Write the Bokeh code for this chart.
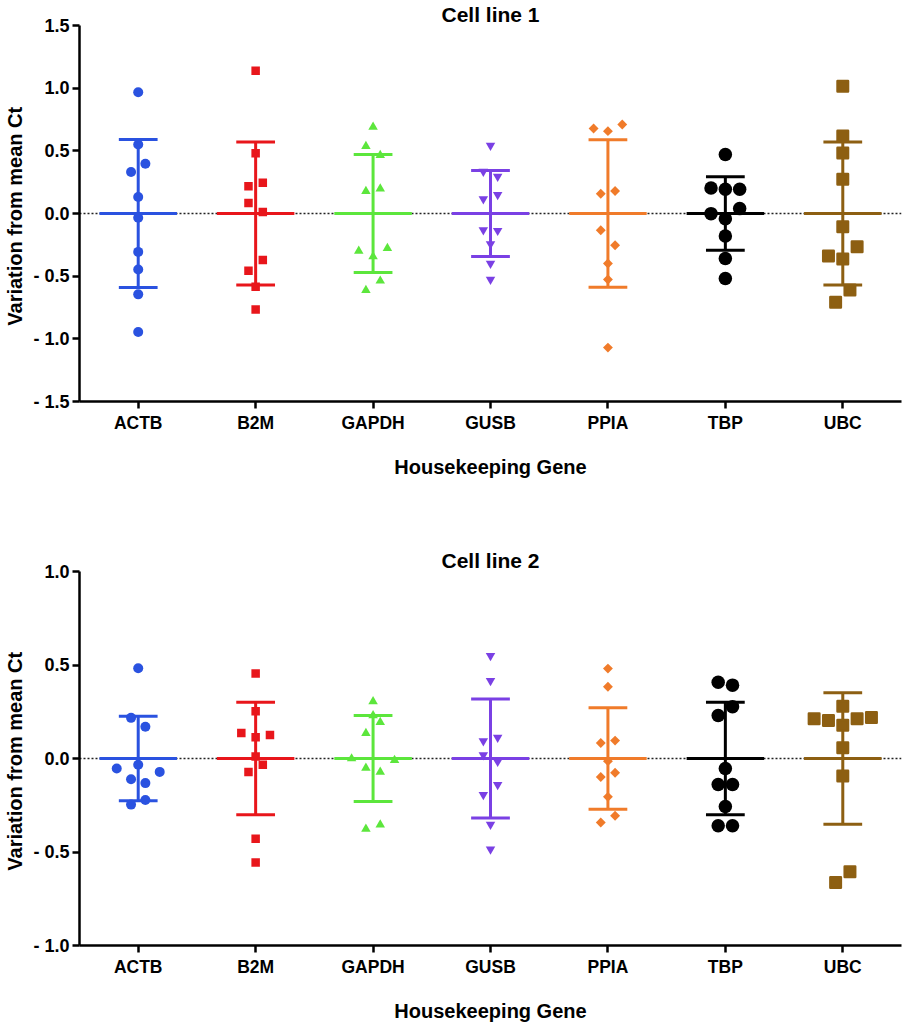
import numpy as np
from bokeh.plotting import figure
from bokeh.layouts import column
from bokeh.models import FixedTicker, Span
from bokeh.embed import file_html
from bokeh.resources import INLINE

genes = ["ACTB", "B2M", "GAPDH", "GUSB", "PPIA", "TBP", "UBC"]
gene_colors = ["#2a52e0", "#e8161b", "#5ce63c", "#7a40e4", "#f07b2a", "#000000", "#8d5f12"]

# Cell line 1: variation from mean Ct (values) and swarm side (steps) per point
cl1_ACTB = [0.96, 0.544, 0.39, 0.324, 0.125, -0.04, -0.313, -0.454, -0.652, -0.952]
cl1_ACTB_side = [0, 0, 1, -1, 0, 0, 0, 0, 0, 0]
cl1_B2M = [1.133, 0.475, 0.239, 0.21, 0.077, 0.005, -0.377, -0.464, -0.592, -0.772]
cl1_B2M_side = [0, 0, 1, -1, -1, 1, 1, -1, 0, 0]
cl1_GAPDH = [0.676, 0.523, 0.451, 0.183, 0.164, -0.292, -0.313, -0.358, -0.552, -0.626]
cl1_GAPDH_side = [0, -1, 1, 1, -1, 2, -2, 0, 1, -1]
cl1_GUSB = [0.544, 0.337, 0.297, 0.151, 0.117, -0.13, -0.135, -0.241, -0.398, -0.525]
cl1_GUSB_side = [0, -1, 1, 1, -1, -1, 1, 0, 0, 0]
cl1_PPIA = [0.703, 0.671, 0.65, 0.172, 0.151, -0.141, -0.26, -0.406, -0.533, -1.077]
cl1_PPIA_side = [2, -2, 0, 1, -1, -1, 1, 0, 0, 0]
cl1_TBP = [0.464, 0.196, 0.186, 0.186, 0.032, -0.008, -0.048, -0.186, -0.366, -0.525]
cl1_TBP_side = [0, -1, 0, 1, 1, -1, 0, 0, 0, 0]
cl1_UBC = [1.008, 0.61, 0.475, 0.265, -0.114, -0.273, -0.347, -0.371, -0.618, -0.716]
cl1_UBC_side = [0, 0, 0, 0, 0, 1, -1, 0, 0.5, -0.5]

# Cell line 2
cl2_ACTB = [0.481, 0.216, 0.168, -0.035, -0.055, -0.073, -0.112, -0.133, -0.223, -0.248]
cl2_ACTB_side = [0, -1, 1, 0, -3, 3, -1, 1, 1, -1]
cl2_B2M = [0.453, 0.251, 0.135, 0.124, 0.112, 0.009, -0.035, -0.073, -0.43, -0.558]
cl2_B2M_side = [0, 0, -2, 2, 0, 0, 1, -1, 0, 0]
cl2_GAPDH = [0.301, 0.225, 0.189, 0.131, -0.005, -0.014, -0.055, -0.076, -0.359, -0.381]
cl2_GAPDH_side = [0, 0, 1, -1, -3, 3, -1, 1, 1, -1]
cl2_GUSB = [0.552, 0.419, 0.115, 0.096, 0.021, -0.014, -0.138, -0.191, -0.35, -0.483]
cl2_GUSB_side = [0, 0, 1, -1, -1, 1, 1, -1, 0, 0]
cl2_PPIA = [0.481, 0.384, 0.096, 0.083, -0.014, -0.076, -0.099, -0.205, -0.306, -0.342]
cl2_PPIA_side = [0, 0, 1, -1, 0, 1, -1, 0, 1, -1]
cl2_TBP = [0.411, 0.396, 0.281, 0.234, -0.05, -0.135, -0.135, -0.253, -0.356, -0.356]
cl2_TBP_side = [-0.5, 0.5, 0.5, -0.5, 0, -0.5, 0.5, 0, -0.5, 0.5]
cl2_UBC = [0.278, 0.219, 0.212, 0.212, 0.202, 0.177, 0.057, -0.094, -0.607, -0.664]
cl2_UBC_side = [0, 2, -2, 1, -1, 0, 0, 0, 0.5, -0.5]

cl1_ticks = [-1.5, -1.0, -0.5, 0.0, 0.5, 1.0, 1.5]
cl1_tick_labels = ["- 1.5", "- 1.0", "- 0.5", "0.0", "0.5", "1.0", "1.5"]
cl2_ticks = [-1.0, -0.5, 0.0, 0.5, 1.0]
cl2_tick_labels = ["- 1.0", "- 0.5", "0.0", "0.5", "1.0"]

cl1 = [(cl1_ACTB, cl1_ACTB_side), (cl1_B2M, cl1_B2M_side), (cl1_GAPDH, cl1_GAPDH_side),
       (cl1_GUSB, cl1_GUSB_side), (cl1_PPIA, cl1_PPIA_side), (cl1_TBP, cl1_TBP_side),
       (cl1_UBC, cl1_UBC_side)]
cl2 = [(cl2_ACTB, cl2_ACTB_side), (cl2_B2M, cl2_B2M_side), (cl2_GAPDH, cl2_GAPDH_side),
       (cl2_GUSB, cl2_GUSB_side), (cl2_PPIA, cl2_PPIA_side), (cl2_TBP, cl2_TBP_side),
       (cl2_UBC, cl2_UBC_side)]

# marker styles per gene: (marker, size, angle, swarm step in category units, outline width)
styles = [
    ("circle", 10, 0.0, 0.061, 0),
    ("square", 8.5, 0.0, 0.061, 0),
    ("triangle", 9.5, 0.0, 0.061, 0),
    ("inverted_triangle", 9.5, 0.0, 0.061, 0),
    ("square", 7, np.pi / 4, 0.061, 0),
    ("circle", 13.5, 0.0, 0.122, 0),
    ("square", 10.5, 0.0, 0.122, 2.5),
]

FONT = "Liberation Sans"


def make_plot(title, data, ticks, tick_labels, height, border_left, border_right,
              border_top, border_bottom):
    lo, hi = ticks[0], ticks[-1]
    p = figure(width=907, height=height, x_range=(-0.5, 6.5), y_range=(lo, hi),
               output_backend="svg", toolbar_location=None, title=title,
               min_border_left=border_left, min_border_right=border_right,
               min_border_top=border_top, min_border_bottom=border_bottom)
    p.title.align = "center"
    p.title.text_font = FONT
    p.title.text_font_size = "21px"
    p.title.text_font_style = "bold"
    p.title.text_color = "#000000"
    p.title.standoff = 0
    p.outline_line_color = None
    p.grid.visible = False
    p.background_fill_color = "white"
    p.border_fill_color = "white"

    p.xaxis.ticker = FixedTicker(ticks=list(range(len(genes))))
    p.xaxis.major_label_overrides = {i: g for i, g in enumerate(genes)}
    p.yaxis.ticker = FixedTicker(ticks=ticks)
    p.yaxis.major_label_overrides = {t: l for t, l in zip(ticks, tick_labels)}
    for ax in (p.xaxis, p.yaxis):
        ax.axis_line_width = 2.5
        ax.axis_line_color = "black"
        ax.major_tick_line_width = 2.5
        ax.major_tick_line_color = "black"
        ax.major_tick_out = 7
        ax.major_tick_in = 0
        ax.minor_tick_line_color = None
        ax.major_label_text_font = FONT
        ax.major_label_text_font_style = "bold"
        ax.major_label_text_color = "black"
        ax.axis_label_text_font = FONT
        ax.axis_label_text_font_style = "bold"
        ax.axis_label_text_font_size = "20px"
        ax.axis_label_text_color = "black"
    p.xaxis.major_label_text_font_size = "17.5px"
    p.yaxis.major_label_text_font_size = "18px"
    p.xaxis.major_label_standoff = 4
    p.yaxis.major_label_standoff = 3
    p.xaxis.axis_label = "Housekeeping Gene"
    p.xaxis.axis_label_standoff = 20
    p.yaxis.axis_label = "Variation from mean  Ct"
    p.yaxis.axis_label_standoff = 4

    p.add_layout(Span(location=0, dimension="width", line_color="#222222",
                      line_width=1.3, line_dash="2 2", level="underlay"))

    for i, ((vals, side), col, st) in enumerate(zip(data, gene_colors, styles)):
        marker, size, angle, step, lw = st
        v = np.array(vals)
        v = v - v.mean()          # variation from the gene's mean
        sd = v.std(ddof=1)
        # mean line
        p.segment(x0=[i - 0.33], x1=[i + 0.33], y0=[0.0], y1=[0.0], line_color=col, line_width=3)
        # SD bar and caps
        p.segment(x0=[i], x1=[i], y0=[-sd], y1=[sd], line_color=col, line_width=3)
        p.segment(x0=[i - 0.165, i - 0.165], x1=[i + 0.165, i + 0.165],
                  y0=[-sd, sd], y1=[-sd, sd], line_color=col, line_width=3)
        xs = i + np.array(side) * step
        p.scatter(xs, v, marker=marker, size=size, angle=angle, fill_color=col,
                  line_color=col if lw else None, line_width=lw, line_join="round")
    return p


p1 = make_plot("Cell line 1", cl1, cl1_ticks, cl1_tick_labels, 545, 73, 6, 24, 144)
p2 = make_plot("Cell line 2", cl2, cl2_ticks, cl2_tick_labels, 479, 79, 1, 26, 76)

layout = column(p1, p2, spacing=0)
open("out.html", "w").write(file_html(layout, INLINE))
